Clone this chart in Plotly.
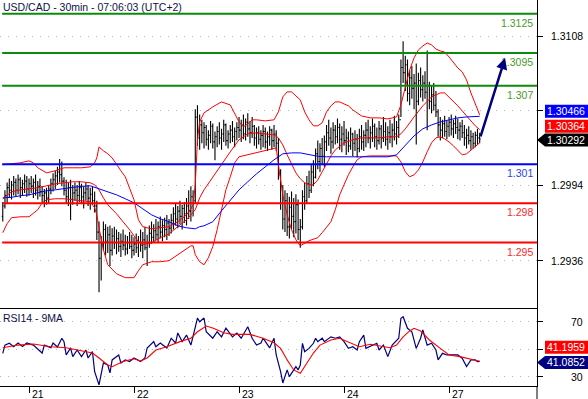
import plotly.graph_objects as go

# ---------------- data ----------------
title_text = "USD/CAD - 30min - 07:06:03 (UTC+2)"
rsi_title = "RSI14 - 9MA"

day_start_bar = [12, 60, 108, 156, 204]
day_labels = ["21", "22", "23", "24", "27"]

first_open = 1.2970
high = [
    1.2981, 1.2990, 1.2996, 1.2999, 1.2997, 1.3001, 1.2999, 1.3002, 1.3000, 1.2998,
    1.3002, 1.3001, 1.2999, 1.3001, 1.2999, 1.3002, 1.2997, 1.2999, 1.2993, 1.2991,
    1.2992, 1.2994, 1.2999, 1.3003, 1.3005, 1.3008, 1.3014, 1.3012, 1.3000, 1.2998,
    1.2996, 1.2998, 1.2994, 1.2996, 1.2994, 1.2997, 1.2995, 1.2993, 1.2996, 1.2994,
    1.2992, 1.2993, 1.2989, 1.2982, 1.2966, 1.2955, 1.2966, 1.2964, 1.2962, 1.2963,
    1.2961, 1.2962, 1.2960, 1.2958, 1.2957, 1.2960, 1.2956, 1.2955, 1.2958, 1.2956,
    1.2954, 1.2957, 1.2955, 1.2960, 1.2958, 1.2962, 1.2956, 1.2963, 1.2966, 1.2964,
    1.2968, 1.2966, 1.2970, 1.2967, 1.2969, 1.2971, 1.2968, 1.2972, 1.2977, 1.2980,
    1.2978, 1.2982, 1.2979, 1.2981, 1.2984, 1.2990, 1.2993, 1.2990, 1.3052, 1.3055,
    1.3048, 1.3044, 1.3042, 1.3040, 1.3036, 1.3043, 1.3041, 1.3035, 1.3039, 1.3042,
    1.3037, 1.3044, 1.3041, 1.3036, 1.3040, 1.3043, 1.3038, 1.3042, 1.3046, 1.3044,
    1.3048, 1.3045, 1.3049, 1.3043, 1.3046, 1.3040, 1.3038, 1.3039, 1.3036, 1.3040,
    1.3038, 1.3035, 1.3039, 1.3037, 1.3040, 1.3036, 1.3030, 1.3006, 1.2994, 1.2990,
    1.2988, 1.2985, 1.2989, 1.2984, 1.2987, 1.2983, 1.2968, 1.2990, 1.2996, 1.3001,
    1.3005, 1.3010, 1.3013, 1.3022, 1.3028, 1.3026, 1.3030, 1.3032, 1.3040, 1.3044,
    1.3038, 1.3042, 1.3040, 1.3045, 1.3041, 1.3039, 1.3043, 1.3037, 1.3035, 1.3038,
    1.3034, 1.3036, 1.3033, 1.3037, 1.3040, 1.3036, 1.3042, 1.3044, 1.3039, 1.3045,
    1.3041, 1.3038, 1.3043, 1.3040, 1.3046, 1.3042, 1.3039, 1.3044, 1.3041, 1.3047,
    1.3043, 1.3048, 1.3090, 1.3104, 1.3093, 1.3090, 1.3082, 1.3085, 1.3079, 1.3087,
    1.3080, 1.3084, 1.3078, 1.3081, 1.3097, 1.3073, 1.3070, 1.3072, 1.3066, 1.3052,
    1.3046, 1.3044, 1.3047, 1.3043, 1.3046, 1.3048, 1.3044, 1.3047, 1.3045, 1.3042,
    1.3044, 1.3040, 1.3037, 1.3039, 1.3036, 1.3034, 1.3035, 1.3037, 1.3034,
]
low = [
    1.2966, 1.2976, 1.2980, 1.2984, 1.2983, 1.2986, 1.2985, 1.2987, 1.2984, 1.2986,
    1.2988, 1.2985, 1.2986, 1.2988, 1.2984, 1.2986, 1.2983, 1.2985, 1.2981, 1.2977,
    1.2979, 1.2980, 1.2987, 1.2989, 1.2991, 1.2994, 1.2996, 1.2993, 1.2986, 1.2980,
    1.2978, 1.2967, 1.2979, 1.2982, 1.2978, 1.2981, 1.2980, 1.2976, 1.2982, 1.2978,
    1.2975, 1.2979, 1.2973, 1.2952, 1.2912, 1.2921, 1.2944, 1.2940, 1.2942, 1.2932,
    1.2940, 1.2945, 1.2941, 1.2943, 1.2939, 1.2944, 1.2940, 1.2941, 1.2945, 1.2938,
    1.2940, 1.2942, 1.2939, 1.2943, 1.2938, 1.2944, 1.2932, 1.2946, 1.2949, 1.2950,
    1.2952, 1.2950, 1.2953, 1.2951, 1.2954, 1.2952, 1.2955, 1.2957, 1.2960, 1.2963,
    1.2961, 1.2964, 1.2960, 1.2965, 1.2963, 1.2968, 1.2966, 1.2970, 1.2980, 1.3024,
    1.3021, 1.3026, 1.3022, 1.3024, 1.3021, 1.3026, 1.3022, 1.3013, 1.3023, 1.3025,
    1.3021, 1.3027, 1.3024, 1.3022, 1.3026, 1.3027, 1.3023, 1.3028, 1.3030, 1.3027,
    1.3029, 1.3028, 1.3031, 1.3026, 1.3030, 1.3024, 1.3022, 1.3025, 1.3021, 1.3023,
    1.3022, 1.3020, 1.3024, 1.3021, 1.3023, 1.3020, 1.2998, 1.2975, 1.2960, 1.2958,
    1.2955, 1.2953, 1.2960, 1.2954, 1.2957, 1.2952, 1.2946, 1.2960, 1.2975, 1.2980,
    1.2984, 1.2988, 1.2993, 1.2999, 1.3006, 1.3004, 1.3010, 1.3008, 1.3020, 1.3024,
    1.3018, 1.3022, 1.3025, 1.3026, 1.3021, 1.3019, 1.3024, 1.3017, 1.3019, 1.3021,
    1.3016, 1.3020, 1.3015, 1.3019, 1.3021, 1.3020, 1.3023, 1.3026, 1.3022, 1.3027,
    1.3023, 1.3021, 1.3025, 1.3022, 1.3027, 1.3024, 1.3021, 1.3026, 1.3023, 1.3028,
    1.3025, 1.3030, 1.3046, 1.3072, 1.3066, 1.3058, 1.3055, 1.3060, 1.3052, 1.3025,
    1.3055, 1.3061, 1.3058, 1.3060, 1.3036, 1.3052, 1.3049, 1.3051, 1.3046, 1.3031,
    1.3028, 1.3030, 1.3031, 1.3029, 1.3031, 1.3032, 1.3030, 1.3033, 1.3029, 1.3028,
    1.3030, 1.3024, 1.3022, 1.3025, 1.3021, 1.3022, 1.3023, 1.3025, 1.3026,
]
close = [
    1.2978, 1.2986, 1.2992, 1.2990, 1.2994, 1.2996, 1.2990, 1.2998, 1.2992, 1.2995,
    1.2997, 1.2991, 1.2995, 1.2993, 1.2996, 1.2990, 1.2993, 1.2989, 1.2986, 1.2988,
    1.2984, 1.2991, 1.2995, 1.2998, 1.3001, 1.3004, 1.3002, 1.2997, 1.2990, 1.2985,
    1.2992, 1.2983, 1.2988, 1.2990, 1.2986, 1.2992, 1.2985, 1.2988, 1.2991, 1.2984,
    1.2987, 1.2982, 1.2978, 1.2958, 1.2938, 1.2949, 1.2960, 1.2951, 1.2956, 1.2944,
    1.2955, 1.2950, 1.2953, 1.2947, 1.2951, 1.2948, 1.2945, 1.2950, 1.2947, 1.2944,
    1.2949, 1.2946, 1.2950, 1.2948, 1.2952, 1.2946, 1.2950, 1.2957, 1.2954, 1.2959,
    1.2956, 1.2962, 1.2958, 1.2963, 1.2960, 1.2965, 1.2961, 1.2967, 1.2972, 1.2968,
    1.2974, 1.2970, 1.2976, 1.2972, 1.2978, 1.2974, 1.2985, 1.2982, 1.3046, 1.3030,
    1.3040, 1.3034, 1.3038, 1.3029, 1.3032, 1.3039, 1.3027, 1.3031, 1.3035, 1.3030,
    1.3033, 1.3040, 1.3028, 1.3033, 1.3036, 1.3031, 1.3035, 1.3038, 1.3036, 1.3040,
    1.3033, 1.3042, 1.3037, 1.3034, 1.3039, 1.3030, 1.3034, 1.3029, 1.3032, 1.3035,
    1.3027, 1.3031, 1.3036, 1.3028, 1.3033, 1.3026, 1.3002, 1.2980, 1.2968, 1.2982,
    1.2962, 1.2977, 1.2970, 1.2966, 1.2979, 1.2960, 1.2962, 1.2985, 1.2982, 1.2995,
    1.2990, 1.3004, 1.3000, 1.3018, 1.3012, 1.3022, 1.3016, 1.3027, 1.3034, 1.3030,
    1.3027, 1.3036, 1.3031, 1.3038, 1.3029, 1.3033, 1.3028, 1.3030, 1.3024, 1.3033,
    1.3026, 1.3029, 1.3022, 1.3031, 1.3027, 1.3032, 1.3036, 1.3030, 1.3034, 1.3039,
    1.3031, 1.3028, 1.3037, 1.3030, 1.3035, 1.3029, 1.3034, 1.3031, 1.3036, 1.3033,
    1.3038, 1.3044, 1.3084, 1.3080, 1.3086, 1.3064, 1.3076, 1.3068, 1.3072, 1.3058,
    1.3074, 1.3067, 1.3072, 1.3065, 1.3070, 1.3058, 1.3063, 1.3055, 1.3050, 1.3040,
    1.3036, 1.3041, 1.3035, 1.3039, 1.3042, 1.3037, 1.3041, 1.3038, 1.3036, 1.3039,
    1.3034, 1.3030, 1.3032, 1.3028, 1.3031, 1.3026, 1.3032, 1.3030, 1.30292,
]

# Bollinger band (20, 2) and 50-period MA, read at selected bars
upper_idx = [0, 4, 8, 12, 14, 16, 20, 24, 28, 32, 36, 40, 42, 43, 44, 46, 48, 50, 52, 54,
             56, 58, 60, 62, 64, 68, 72, 76, 80, 84, 86, 87, 88, 89, 90, 92, 96, 100, 104, 106,
             108, 110, 112, 114, 116, 120, 124, 126, 127, 128, 130, 132, 134, 136, 138, 140, 142, 144, 146, 148,
             150, 152, 154, 156, 158, 160, 162, 164, 168, 172, 176, 180, 182, 184, 186, 188, 190, 192, 194, 196,
             198, 200, 202, 204, 206, 208, 210, 212, 214, 216, 218]
upper_val = [1.30095, 1.30102, 1.30110, 1.30125, 1.30110, 1.30072, 1.30033, 1.30049, 1.30072, 1.30072,
             1.30072, 1.30079, 1.30110, 1.30148, 1.30232, 1.30202, 1.30179, 1.30148, 1.30095, 1.30049,
             1.30003, 1.29919, 1.29827, 1.29674, 1.29621, 1.29605, 1.29613, 1.29621, 1.29659, 1.29712,
             1.29758, 1.29789, 1.29942, 1.30286, 1.30423, 1.30492, 1.30538, 1.30576, 1.30553, 1.30492,
             1.30423, 1.30385, 1.30408, 1.30439, 1.30439, 1.30431, 1.30439, 1.30500, 1.30569, 1.30614,
             1.30653, 1.30653, 1.30622, 1.30592, 1.30500, 1.30439, 1.30393, 1.30393, 1.30416, 1.30500,
             1.30546, 1.30576, 1.30576, 1.30561, 1.30546, 1.30515, 1.30492, 1.30469, 1.30454, 1.30454,
             1.30446, 1.30461, 1.30553, 1.30683, 1.30821, 1.30913, 1.30974, 1.31004, 1.31027, 1.31012,
             1.30981, 1.30966, 1.30958, 1.30920, 1.30874, 1.30836, 1.30806, 1.30744, 1.30645, 1.30553,
             1.30477]
mid_idx = [0, 4, 8, 12, 16, 20, 24, 28, 32, 36, 40, 42, 44, 46, 48, 52, 56, 58, 60, 62,
           64, 68, 72, 76, 80, 84, 88, 90, 92, 96, 100, 104, 108, 112, 116, 120, 124, 126, 128, 130,
           132, 134, 136, 138, 140, 142, 144, 146, 148, 150, 152, 156, 160, 164, 168, 172, 176, 180, 182, 184,
           188, 192, 196, 200, 202, 204, 208, 212, 216, 218]
mid_val = [1.29835, 1.29888, 1.29903, 1.29911, 1.29919, 1.29934, 1.29949, 1.29957, 1.29965, 1.29965,
           1.29957, 1.29942, 1.29903, 1.29842, 1.29789, 1.29720, 1.29644, 1.29598, 1.29552, 1.29506,
           1.29483, 1.29498, 1.29537, 1.29567, 1.29621, 1.29674, 1.29751, 1.29842, 1.29903, 1.30003,
           1.30095, 1.30194, 1.30286, 1.30332, 1.30339, 1.30332, 1.30324, 1.30301, 1.30247, 1.30171,
           1.30095, 1.30033, 1.29988, 1.29957, 1.29942, 1.29942, 1.29980, 1.30041, 1.30095, 1.30163,
           1.30209, 1.30263, 1.30286, 1.30301, 1.30301, 1.30301, 1.30309, 1.30309, 1.30332, 1.30370,
           1.30461, 1.30546, 1.30614, 1.30645, 1.30645, 1.30614, 1.30546, 1.30469, 1.30393, 1.30364]
lower_idx = [0, 2, 4, 8, 12, 16, 18, 20, 24, 28, 32, 36, 40, 42, 43, 44, 46, 48, 50, 52,
             56, 60, 62, 64, 68, 72, 76, 80, 84, 86, 87, 88, 90, 92, 94, 96, 98, 100, 102, 104,
             106, 108, 112, 116, 120, 124, 125, 126, 128, 130, 132, 134, 136, 140, 144, 146, 148, 150, 152, 154,
             156, 158, 160, 162, 164, 168, 172, 176, 180, 182, 184, 186, 188, 190, 192, 194, 196, 198, 200, 202,
             204, 206, 208, 210, 212, 214, 216, 218]
lower_val = [1.29575, 1.29644, 1.29690, 1.29697, 1.29697, 1.29751, 1.29804, 1.29827, 1.29835, 1.29835,
             1.29827, 1.29819, 1.29812, 1.29766, 1.29712, 1.29613, 1.29445, 1.29330, 1.29292, 1.29261,
             1.29231, 1.29231, 1.29284, 1.29330, 1.29353, 1.29353, 1.29361, 1.29407, 1.29452, 1.29475,
             1.29475, 1.29407, 1.29353, 1.29330, 1.29384, 1.29468, 1.29598, 1.29751, 1.29903, 1.30003,
             1.30110, 1.30156, 1.30171, 1.30186, 1.30202, 1.30217, 1.30224, 1.30095, 1.29865, 1.29712,
             1.29598, 1.29521, 1.29475, 1.29514, 1.29537, 1.29575, 1.29613, 1.29659, 1.29751, 1.29865,
             1.29942, 1.30018, 1.30079, 1.30133, 1.30156, 1.30163, 1.30163, 1.30163, 1.30163, 1.30117,
             1.30041, 1.30003, 1.30018, 1.30056, 1.30117, 1.30194, 1.30263, 1.30301, 1.30309, 1.30293,
             1.30270, 1.30240, 1.30209, 1.30171, 1.30179, 1.30209, 1.30232, 1.30263]
ma50_idx = [0, 4, 8, 12, 16, 20, 24, 28, 32, 36, 40, 44, 48, 52, 56, 60, 64, 68, 72, 76,
            80, 84, 88, 90, 92, 96, 100, 104, 108, 112, 116, 120, 124, 128, 132, 136, 140, 144, 148, 152,
            156, 160, 164, 168, 172, 176, 180, 182, 184, 188, 192, 196, 200, 204, 208, 212, 216, 218]
ma50_val = [1.29842, 1.29846, 1.29858, 1.29865, 1.29881, 1.29896, 1.29903, 1.29915, 1.29922, 1.29930,
            1.29934, 1.29911, 1.29888, 1.29865, 1.29835, 1.29804, 1.29758, 1.29712, 1.29682, 1.29659,
            1.29628, 1.29613, 1.29605, 1.29621, 1.29628, 1.29659, 1.29743, 1.29827, 1.29903, 1.29965,
            1.30026, 1.30079, 1.30133, 1.30179, 1.30186, 1.30186, 1.30171, 1.30160, 1.30156, 1.30156,
            1.30156, 1.30156, 1.30156, 1.30156, 1.30156, 1.30156, 1.30171, 1.30209, 1.30247, 1.30316,
            1.30370, 1.30400, 1.30423, 1.30439, 1.30454, 1.30461, 1.30461, 1.30466]

# RSI(14) and its 9-period MA, read at selected bars
rsi_idx = [0, 1, 3, 5, 7, 9, 11, 14, 18, 19, 22, 23, 25, 27, 28, 29, 31, 32, 34, 36,
           38, 39, 41, 42, 44, 46, 48, 49, 50, 53, 54, 56, 58, 60, 63, 65, 66, 69, 70, 72,
           75, 77, 79, 80, 82, 84, 86, 87, 89, 90, 92, 93, 96, 98, 100, 102, 105, 107, 109, 112,
           114, 116, 118, 119, 121, 122, 124, 125, 127, 128, 130, 131, 134, 135, 136, 137, 138, 140, 142, 143,
           144, 146, 147, 150, 152, 154, 156, 158, 160, 162, 163, 165, 166, 169, 171, 172, 174, 176, 178, 181,
           182, 183, 185, 187, 189, 191, 192, 194, 196, 198, 199, 201, 203, 208, 210, 212, 214, 216, 217, 218]
rsi_val = [47, 53, 54.3, 51.8, 54.5, 52, 54.5, 53, 47.2, 53, 51, 54.5, 51.6, 58, 55.5, 45.8, 51, 44.6, 49.4, 44.6,
           49.4, 43.6, 48.2, 33.6, 24, 40, 38.5, 32.7, 42.2, 45.8, 40, 42.2, 41, 43.6, 41, 43.6, 50.9, 55.5, 51.8, 54.5,
           50.9, 58, 54.5, 61.8, 55.5, 60.3, 53, 60.3, 72.7, 70, 72.7, 62.7, 58, 62.7, 59, 65.4, 59, 61.8, 58, 66.4,
           58, 53, 54.5, 58, 53, 51, 58, 45.8, 33.6, 25.4, 34.9, 30, 37.3, 34.9, 38.5, 54.3, 48.2, 50.6, 54.3, 58,
           55.5, 58, 55.5, 59, 58, 59, 55.5, 50.6, 51.8, 49.4, 55.5, 60.3, 50.6, 53, 54.3, 49.4, 53, 44.6, 53, 58,
           72.5, 73.6, 65.2, 62.7, 50.6, 58, 64, 53, 54.3, 49.4, 42.2, 47, 45.8, 45.8, 43.4, 37.3, 42.2, 42.2, 41, 41.0852]
rsi_ma_idx = [0, 7, 14, 22, 29, 37, 41, 44, 48, 50, 55, 60, 63, 66, 70, 75, 81, 86, 89, 93,
              96, 101, 105, 113, 119, 124, 127, 130, 133, 136, 139, 142, 145, 150, 154, 159, 163, 168, 172, 177,
              180, 183, 186, 188, 191, 195, 200, 204, 209, 214, 217, 218]
rsi_ma_val = [51, 53, 53.8, 51.8, 51, 48.2, 47.2, 43.6, 38.5, 37.3, 41, 43, 41.4, 43.6, 49.4, 51.8, 55.5, 58, 62.7, 66.9,
              65.4, 62, 60.8, 60.8, 58, 54.7, 50.6, 42.2, 34.9, 32.5, 40, 47.2, 53, 56.7, 58, 54.3, 51.8, 53.6, 52.6, 51.1,
              53, 59, 63.3, 65.2, 63.3, 56.7, 50.6, 45.8, 44.6, 42.7, 41.3, 41.1959]

# horizontal support / resistance levels
levels = [1.3125, 1.3095, 1.3070, 1.3010, 1.2980, 1.2950]
level_labels = ["1.3125", "1.3095", "1.307", "1.301", "1.298", "1.295"]

# projected move arrow (bar index, price)
arrow_from = (218.2, 1.30300)
arrow_to = (229.6, 1.30912)

price_ticks = [1.2936, 1.2994, 1.3051, 1.3108]
price_tick_labels = ["1.2936", "1.2994", "", "1.3108"]
rsi_ticks = [30, 50, 70]
rsi_tick_labels = ["30", "", "70"]

# ---------------- styling ----------------
FONT = "Liberation Sans, Arial, sans-serif"
FS = 10.5
GREEN = "#0a8c0a"
GREEN_TXT = "#4a9a2a"
BLUE = "#0000ff"
RED = "#ff0000"
NAVY = "#000080"
level_line_colors = [GREEN, GREEN, GREEN, BLUE, RED, RED]
level_text_colors = [GREEN_TXT, GREEN_TXT, GREEN_TXT, "#2a40f0", "#ff2a2a", "#ff2a2a"]

n = len(close)
assert len(high) == n and len(low) == n, (len(high), len(low), n)
assert len(upper_idx) == len(upper_val), (len(upper_idx), len(upper_val))
assert len(mid_idx) == len(mid_val), (len(mid_idx), len(mid_val))
assert len(lower_idx) == len(lower_val), (len(lower_idx), len(lower_val))
assert len(ma50_idx) == len(ma50_val), (len(ma50_idx), len(ma50_val))
assert len(rsi_idx) == len(rsi_val), (len(rsi_idx), len(rsi_val))
assert len(rsi_ma_idx) == len(rsi_ma_val), (len(rsi_ma_idx), len(rsi_ma_val))

bar_idx = list(range(n))
open_ = [first_open] + close[:-1]

X_RANGE = [-1.26, 244.2]
MAIN_RANGE = [1.28999, 1.31356]
RSI_RANGE = [23.2, 80.0]
SPLIT = 78 / 386

fig = go.Figure()
fig.add_trace(go.Ohlc(
    x=bar_idx, open=open_, high=high, low=low, close=close,
    increasing=dict(line=dict(color="black", width=1.1)),
    decreasing=dict(line=dict(color="black", width=1.1)),
    tickwidth=0.45, xaxis="x", yaxis="y", hoverinfo="skip", showlegend=False))

for xs, ys, col in [(upper_idx, upper_val, RED), (mid_idx, mid_val, RED),
                    (lower_idx, lower_val, RED), (ma50_idx, ma50_val, BLUE)]:
    fig.add_trace(go.Scatter(x=xs, y=ys, mode="lines", line=dict(color=col, width=1),
                             xaxis="x", yaxis="y", hoverinfo="skip", showlegend=False))

fig.add_trace(go.Scatter(x=rsi_idx, y=rsi_val, mode="lines", line=dict(color=NAVY, width=1.2),
                         xaxis="x2", yaxis="y2", hoverinfo="skip", showlegend=False))
fig.add_trace(go.Scatter(x=rsi_ma_idx, y=rsi_ma_val, mode="lines", line=dict(color=RED, width=1.1),
                         xaxis="x2", yaxis="y2", hoverinfo="skip", showlegend=False))

shapes = []
annotations = []

# level lines + labels
for lv, lab, lc, tc in zip(levels, level_labels, level_line_colors, level_text_colors):
    shapes.append(dict(type="line", xref="x domain", x0=0.004, x1=1, yref="y", y0=lv, y1=lv,
                       line=dict(color=lc, width=2), layer="above"))
    annotations.append(dict(xref="x domain", x=0.9965, xanchor="right", yref="y", y=lv,
                            yanchor="top", yshift=-1, text=lab, showarrow=False,
                            font=dict(family=FONT, size=FS, color=tc)))

# axis extension line on the right down to the bottom of the figure
shapes.append(dict(type="line", xref="paper", x0=1, x1=1, yref="paper", y0=-13 / 386, y1=0,
                   line=dict(color="black", width=1)))


def tag(yref, value, color, arrow, shift, text):
    top, bot = shift + 6.5, shift - 6.5
    if arrow:
        path = f"M0,{shift} L8,{top} L51,{top} L51,{bot} L8,{bot} Z"
    else:
        path = f"M8,{top} L51,{top} L51,{bot} L8,{bot} Z"
    shapes.append(dict(type="path", xref="paper", xsizemode="pixel", xanchor=1,
                       yref=yref, ysizemode="pixel", yanchor=value, path=path,
                       fillcolor=color, line=dict(width=0), layer="above"))
    annotations.append(dict(xref="paper", x=1, xshift=50, xanchor="right", yref=yref, y=value,
                            yshift=shift, yanchor="middle", text=text, showarrow=False,
                            font=dict(family=FONT, size=FS, color="white")))


tag("y", ma50_val[-1], "#0000ff", False, 5, f"{ma50_val[-1]:.5f}")
tag("y", mid_val[-1], "#ff0000", False, 3.5, f"{mid_val[-1]:.5f}")
tag("y", close[-1], "#000000", True, -1, f"{close[-1]:.5f}")
tag("y2", rsi_ma_val[-1], "#ff0000", False, 14, f"{rsi_ma_val[-1]:.4f}")
tag("y2", rsi_val[-1], NAVY, True, -1, f"{rsi_val[-1]:.4f}")

# y tick labels, right aligned
for v, t in zip(price_ticks, price_tick_labels):
    if t:
        annotations.append(dict(xref="paper", x=1, xshift=48, xanchor="right", yref="y", y=v,
                                yanchor="middle", text=t, showarrow=False,
                                font=dict(family=FONT, size=FS, color="black")))
for v, t in zip(rsi_ticks, rsi_tick_labels):
    if t:
        annotations.append(dict(xref="paper", x=1, xshift=48, xanchor="right", yref="y2", y=v,
                                yanchor="middle", text=t, showarrow=False,
                                font=dict(family=FONT, size=FS, color="black")))

# day labels
for d, t in zip(day_start_bar, day_labels):
    annotations.append(dict(xref="x2", x=d, xanchor="left", xshift=1, yref="paper", y=0,
                            yanchor="top", yshift=0, text=t, showarrow=False,
                            font=dict(family=FONT, size=FS, color="black")))

# titles
annotations.append(dict(xref="paper", x=0, xanchor="left", xshift=1, yref="paper", y=1,
                        yanchor="top", yshift=1, text=title_text, showarrow=False,
                        font=dict(family=FONT, size=FS, color="#10104a")))
annotations.append(dict(xref="paper", x=0, xanchor="left", xshift=1, yref="y2 domain", y=1,
                        yanchor="top", yshift=-2, text=rsi_title, showarrow=False,
                        font=dict(family=FONT, size=FS, color="#10104a")))

# projection arrow
annotations.append(dict(xref="x", yref="y", x=arrow_to[0], y=arrow_to[1],
                        axref="x", ayref="y", ax=arrow_from[0], ay=arrow_from[1],
                        showarrow=True, arrowhead=2, arrowsize=0.9, arrowwidth=2.5,
                        arrowcolor=NAVY, text=""))

grid = dict(showgrid=True, gridcolor="#b4b4b4", gridwidth=1, griddash="1px,7px")

fig.update_layout(
    width=588, height=399, autosize=False,
    margin=dict(l=0, r=51, t=0, b=13, pad=0),
    paper_bgcolor="white", plot_bgcolor="white",
    font=dict(family=FONT, size=FS, color="black"),
    showlegend=False,
    xaxis=dict(domain=[0, 1], anchor="y", range=X_RANGE, showgrid=False, zeroline=False,
               showline=True, linecolor="black", linewidth=1, ticks="", showticklabels=False,
               rangeslider=dict(visible=False), fixedrange=True),
    xaxis2=dict(domain=[0, 1], anchor="y2", range=X_RANGE, matches="x", showgrid=False,
                zeroline=False, showline=True, linecolor="black", linewidth=1,
                tickmode="array", tickvals=day_start_bar, ticks="outside", ticklen=6,
                tickcolor="black", tickwidth=1, showticklabels=False),
    yaxis=dict(domain=[SPLIT, 1], anchor="x", side="right", range=MAIN_RANGE, zeroline=False,
               showline=True, linecolor="black", linewidth=1, tickmode="array",
               tickvals=price_ticks, ticks="outside", ticklen=5, tickcolor="black",
               showticklabels=False, **grid),
    yaxis2=dict(domain=[0, SPLIT], anchor="x2", side="right", range=RSI_RANGE, zeroline=False,
                showline=True, linecolor="black", linewidth=1, tickmode="array",
                tickvals=rsi_ticks, ticks="outside", ticklen=5, tickcolor="black",
                showticklabels=False, **grid),
    shapes=shapes,
    annotations=annotations,
)

fig.write_html("out.html", config={"displayModeBar": False},
               post_script="document.body.style.margin='0';document.body.style.overflow='hidden';")
